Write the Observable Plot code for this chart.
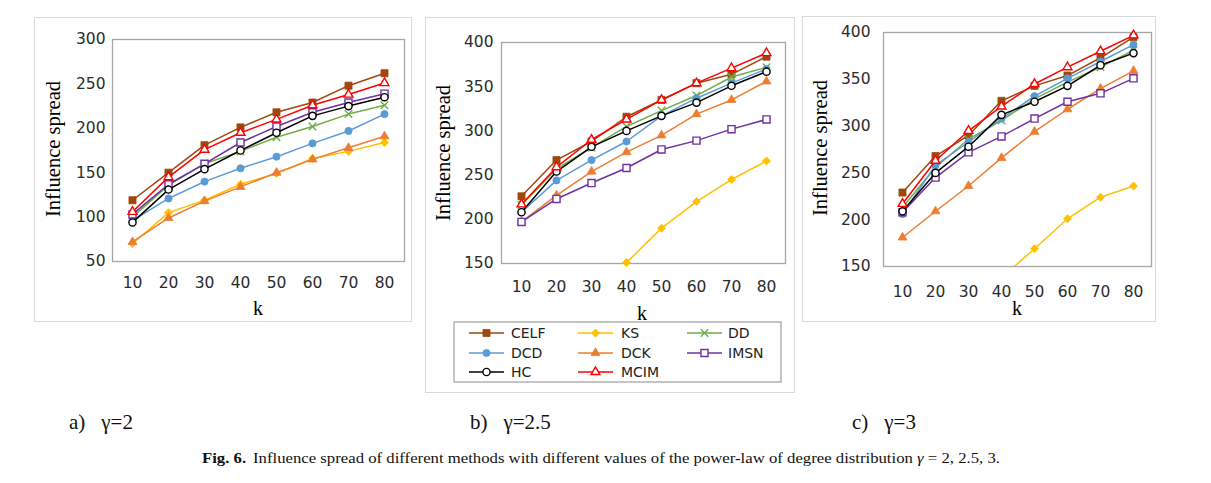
<!DOCTYPE html>
<html>
<head>
<meta charset="utf-8">
<script src="https://cdn.jsdelivr.net/npm/d3@7"></script>
<script src="https://cdn.jsdelivr.net/npm/@observablehq/plot@0.6"></script>
<style>
  html, body { margin: 0; padding: 0; background: #fff; }
  #root { position: relative; width: 1211px; height: 483px; overflow: hidden; background: #fff; }
  .box { position: absolute; border: 1.5px solid #d9d9d9; box-sizing: border-box; }
  .plot { position: absolute; }
  .plot svg text { font-size: 15.5px !important; font-family: "DejaVu Sans", sans-serif !important; fill: #2b2b2b; }
  #overlay { position: absolute; left: 0; top: 0; pointer-events: none; }
</style>
</head>
<body>
<div id="root">
  <div class="box" style="left:34px;top:17px;width:378px;height:305px"></div>
  <div class="box" style="left:425px;top:17px;width:370px;height:376px"></div>
  <div class="box" style="left:802px;top:16px;width:354px;height:306px"></div>
  <div class="plot" id="pa" style="left:34px;top:17px"></div>
  <div class="plot" id="pb" style="left:425px;top:17px"></div>
  <div class="plot" id="pc" style="left:802px;top:16px"></div>
  <svg id="overlay" width="1211" height="483"></svg>
</div>
<script>
// ---- data ----
const ks = [10, 20, 30, 40, 50, 60, 70, 80];
const methods = ["CELF", "KS", "DD", "DCD", "DCK", "IMSN", "HC", "MCIM"];
const colors = ["#9e480e", "#ffc000", "#70ad47", "#5b9bd5", "#ed7d31", "#7030a0", "#000000", "#ff0000"];
const symbols = ["square", "diamond2", "times", "circle", "triangle", "square", "circle", "triangle"];
const filled = [true, true, false, true, true, false, false, false];

// gamma = 2
const g2_CELF = [119, 150, 181, 201, 218, 229, 248, 262];
const g2_KS   = [70, 105, 119, 137, 149, 166, 174, 184];
const g2_DD   = [100, 136, 160, 174, 190, 202, 216, 226];
const g2_DCD  = [96, 121, 140, 155, 168, 183, 197, 216];
const g2_DCK  = [72, 99, 118, 134, 150, 165, 178, 191];
const g2_IMSN = [103, 137, 160, 184, 202, 218, 229, 239];
const g2_HC   = [94, 131, 154, 175, 195, 214, 225, 235];
const g2_MCIM = [106, 145, 176, 195, 210, 226, 238, 251];

// gamma = 2.5
const g25_CELF = [226, 267, 288, 316, 335, 354, 364, 384];
const g25_KS   = [null, null, null, 151, 190, 220, 245, 266];
const g25_DD   = [216, 257, 281, 305, 323, 340, 361, 372];
const g25_DCD  = [208, 244, 267, 288, 317, 337, 354, 370];
const g25_DCK  = [197, 227, 254, 276, 295, 319, 335, 356];
const g25_IMSN = [197, 223, 241, 258, 279, 289, 302, 313];
const g25_HC   = [208, 254, 282, 300, 317, 332, 351, 367];
const g25_MCIM = [217, 259, 290, 313, 335, 354, 371, 388];

// gamma = 3
const g3_CELF = [229, 268, 290, 327, 343, 354, 373, 395];
const g3_KS   = [null, null, null, 138, 169, 201, 224, 236];
const g3_DD   = [213, 256, 286, 306, 329, 347, 363, 381];
const g3_DCD  = [206, 258, 283, 308, 332, 351, 369, 387];
const g3_DCK  = [181, 209, 236, 266, 294, 318, 340, 359];
const g3_IMSN = [208, 245, 272, 289, 308, 326, 335, 351];
const g3_HC   = [209, 250, 278, 312, 326, 343, 365, 378];
const g3_MCIM = [217, 263, 295, 321, 345, 363, 380, 397];

const yTicksA = [50, 100, 150, 200, 250, 300];
const yTicksBC = [150, 200, 250, 300, 350, 400];

const seriesA = [g2_CELF, g2_KS, g2_DD, g2_DCD, g2_DCK, g2_IMSN, g2_HC, g2_MCIM];
const seriesB = [g25_CELF, g25_KS, g25_DD, g25_DCD, g25_DCK, g25_IMSN, g25_HC, g25_MCIM];
const seriesC = [g3_CELF, g3_KS, g3_DD, g3_DCD, g3_DCK, g3_IMSN, g3_HC, g3_MCIM];

const symR = { square: 4, diamond2: 3.6, times: 3.5, circle: 3.6, triangle: 3.3 };

function panel(el, series, cfg) {
  const marks = [Plot.frame({ stroke: "#a6a6a6", strokeWidth: 1.3 })];
  series.forEach((vals, i) => {
    const data = ks.map((k, j) => ({ k, v: vals[j], m: methods[i] }));
    marks.push(Plot.line(data, { x: "k", y: "v", stroke: colors[i], strokeWidth: 1.5, clip: true }));
    const pts = data.filter(d => d.v != null && d.v >= cfg.domain[0]);
    marks.push(Plot.dot(pts, {
      x: "k", y: "v", symbol: symbols[i], r: symR[symbols[i]],
      fill: filled[i] ? colors[i] : (symbols[i] === "times" ? "none" : "white"),
      stroke: colors[i], strokeWidth: filled[i] ? 0.8 : 1.4
    }));
  });
  const p = Plot.plot({
    width: cfg.width, height: cfg.height,
    marginLeft: cfg.ml, marginTop: cfg.mt, marginRight: cfg.mr, marginBottom: cfg.mb,
    style: { fontFamily: "DejaVu Sans", fontSize: "15.5px", color: "#2b2b2b", background: "transparent" },
    x: { type: "point", domain: ks, padding: 0.5, tickSize: 0, tickPadding: cfg.xpad, label: null },
    y: { domain: cfg.domain, ticks: cfg.ticks, tickSize: 0, tickPadding: cfg.ypad, label: null },
    marks
  });
  document.getElementById(el).appendChild(p);
}

panel("pa", seriesA, { width: 378, height: 305, ml: 78, mt: 22, mr: 8, mb: 61, domain: [50, 300], ticks: yTicksA, xpad: 15.9, ypad: 7 });
panel("pb", seriesB, { width: 370, height: 300, ml: 76, mt: 25, mr: 10, mb: 54, domain: [150, 400], ticks: yTicksBC, xpad: 17.2, ypad: 8 });
panel("pc", seriesC, { width: 354, height: 306, ml: 81, mt: 16, mr: 5, mb: 56, domain: [150, 400], ticks: yTicksBC, xpad: 19.5, ypad: 13 });

// ---- overlay: axis titles, legend, captions ----
const svg = d3.select("#overlay");
const serif = "Liberation Serif";

const yTitles = [[53, 149], [443, 153], [820, 148]];
yTitles.forEach(([x, y]) => {
  svg.append("text").attr("transform", `translate(${x},${y}) rotate(-90)`)
    .attr("text-anchor", "middle").attr("dominant-baseline", "central")
    .attr("font-family", serif).attr("font-size", 20.5).attr("fill", "#000")
    .text("Influence spread");
});
const kTitles = [[258, 315], [642, 320], [1017, 314.5]];
kTitles.forEach(([x, y]) => {
  svg.append("text").attr("x", x).attr("y", y).attr("text-anchor", "middle")
    .attr("font-family", serif).attr("font-size", 20).attr("fill", "#000").text("k");
});

// legend
svg.append("rect").attr("x", 454).attr("y", 322).attr("width", 327).attr("height", 60)
  .attr("fill", "white").attr("stroke", "#a6a6a6").attr("stroke-width", 1.3);
const colLine = [469, 578, 687], colText = [511, 621, 728], rowY = [333, 353, 372];
const d3sym = { square: d3.symbolSquare, diamond2: d3.symbolDiamond2, times: d3.symbolTimes, circle: d3.symbolCircle, triangle: d3.symbolTriangle };
methods.forEach((m, i) => {
  const r = Math.floor(i / 3), c = i % 3;
  const x0 = colLine[c], x1 = x0 + 35, y = rowY[r];
  svg.append("line").attr("x1", x0).attr("x2", x1).attr("y1", y).attr("y2", y)
    .attr("stroke", colors[i]).attr("stroke-width", 1.5);
  const rr = symR[symbols[i]];
  svg.append("path").attr("transform", `translate(${(x0 + x1) / 2},${y})`)
    .attr("d", d3.symbol(d3sym[symbols[i]], Math.PI * rr * rr)())
    .attr("fill", filled[i] ? colors[i] : (symbols[i] === "times" ? "none" : "white"))
    .attr("stroke", colors[i]).attr("stroke-width", filled[i] ? 0.8 : 1.4);
  svg.append("text").attr("x", colText[c]).attr("y", y).attr("dominant-baseline", "central")
    .attr("font-family", "DejaVu Sans").attr("font-size", 14).attr("fill", "#222").text(m);
});

// sub captions
const subs = [[69, "a)", "γ=2"], [470, "b)", "γ=2.5"], [852, "c)", "γ=3"]];
subs.forEach(([x, a, g]) => {
  const t = svg.append("text").attr("x", x).attr("y", 429).attr("font-family", serif)
    .attr("font-size", 21).attr("fill", "#111");
  t.append("tspan").text(a);
  t.append("tspan").attr("dx", 16).text(g);
});

// figure caption
const cap = svg.append("text").attr("x", 202).attr("y", 463).attr("font-family", serif)
  .attr("font-size", 14.5).attr("fill", "#111")
  .attr("textLength", 798).attr("lengthAdjust", "spacingAndGlyphs");
cap.append("tspan").attr("font-weight", "bold").text("Fig. 6.");
cap.append("tspan").attr("dx", 6).text("Influence spread of different methods with different values of the power-law of degree distribution ");
cap.append("tspan").attr("font-style", "italic").text("γ");
cap.append("tspan").text(" = 2, 2.5, 3.");
</script>
</body>
</html>
